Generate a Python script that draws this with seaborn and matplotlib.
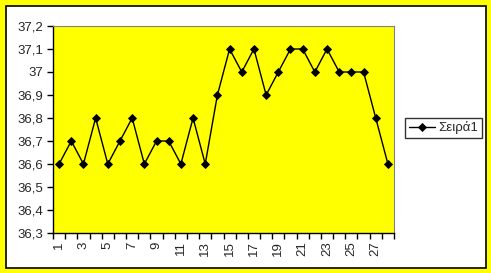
import matplotlib
matplotlib.use("Agg")
import matplotlib.pyplot as plt
import seaborn as sns
import pandas as pd
import numpy as np
from matplotlib.patches import Rectangle
from matplotlib.ticker import FixedLocator, FuncFormatter

categories = list(range(1, 29))
values = [36.6, 36.7, 36.6, 36.8, 36.6, 36.7, 36.8, 36.6, 36.7, 36.7,
          36.6, 36.8, 36.6, 36.9, 37.1, 37.0, 37.1, 36.9, 37.0, 37.1,
          37.1, 37.0, 37.1, 37.0, 37.0, 37.0, 36.8, 36.6]
series_name = "Σειρά1"
y_ticks = [36.3, 36.4, 36.5, 36.6, 36.7, 36.8, 36.9, 37.0, 37.1, 37.2]

df = pd.DataFrame({"cat": categories, "val": values, "series": series_name})

sns.set_theme(style="white")
plt.rcParams['font.family'] = ['Liberation Sans', 'DejaVu Sans']

W, H = 491, 273
fig = plt.figure(figsize=(W / 100, H / 100), dpi=100)
fig.patch.set_facecolor("#FFFF00")
fig.patches.append(Rectangle((5.5 / W, 5.5 / H), 480.5 / W, 262 / H,
                             transform=fig.transFigure, facecolor="white",
                             edgecolor="black", linewidth=1.2, zorder=-5))

ax = fig.add_axes([53 / W, (H - 233) / H, (394 - 53) / W, (233 - 26) / H])
ax.set_zorder(2)
ax.set_facecolor("#FFFF00")

sns.lineplot(data=df, x="cat", y="val", hue="series", palette=["black"],
             marker="D", markersize=4, markeredgecolor="black",
             markeredgewidth=0.6, linewidth=1, ax=ax, legend=True)

ax.set_xlim(0.5, 28.5)
ax.set_ylim(36.3, 37.2)
ax.set_xlabel("")
ax.set_ylabel("")

ax.yaxis.set_major_locator(FixedLocator(y_ticks))
ax.yaxis.set_major_formatter(FuncFormatter(lambda v, p: (("%.1f" % v).rstrip("0").rstrip(".")).replace(".", ",")))
ax.tick_params(axis="y", which="major", direction="out", length=4, width=1,
               color="black", labelsize=9.5, pad=3, left=True)

ax.xaxis.set_major_locator(FixedLocator(categories[::2]))
ax.set_xticklabels([str(c) for c in categories[::2]], rotation=90)
ax.xaxis.set_minor_locator(FixedLocator(np.arange(0.5, 29, 1)))
ax.tick_params(axis="x", which="major", length=0, labelsize=9.5, pad=6)
ax.tick_params(axis="x", which="minor", direction="out", length=4, width=1,
               color="black", bottom=True)

for s in ["left", "bottom"]:
    ax.spines[s].set_color("black")
    ax.spines[s].set_linewidth(1)
for s in ["top", "right"]:
    ax.spines[s].set_color("#808080")
    ax.spines[s].set_linewidth(0.8)

leg = ax.legend(loc="center left", bbox_to_anchor=(405 / W, (H - 128) / H),
                bbox_transform=fig.transFigure, frameon=True, fancybox=False,
                fontsize=9.5, handlelength=2.0, handletextpad=0.25,
                borderpad=0.3, borderaxespad=0)
leg._legend_box.sep = 0
leg.get_frame().set_edgecolor("black")
leg.get_frame().set_linewidth(1)
leg.get_frame().set_facecolor("white")
leg.get_texts()[0].set_fontsize(9.5)
plt.setp(leg, )
leg._legend_box.align = "left"
leg.borderpad = 0.3

fig.savefig("out.png", dpi=100, facecolor=fig.get_facecolor())
